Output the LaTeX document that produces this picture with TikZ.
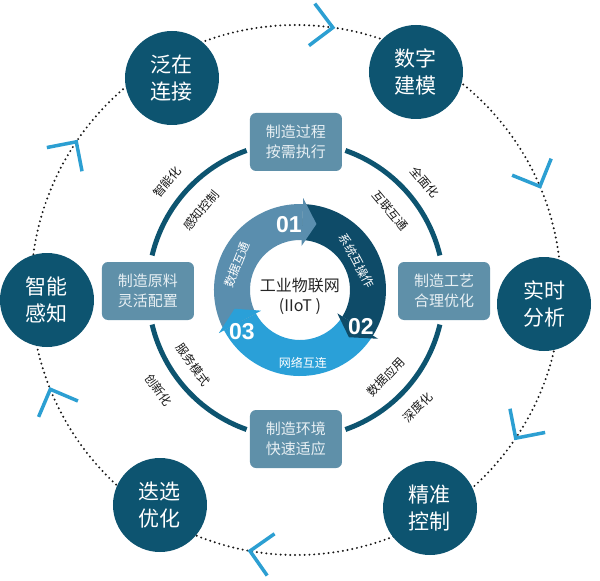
\documentclass[tikz,border=0pt]{standalone}
\usepackage{fontspec}
\newfontfamily\cjk{Noto Sans CJK SC}
\newfontfamily\numfont{Liberation Sans}
\definecolor{HubTeal}{HTML}{0D5470}
\definecolor{BoxBlue}{HTML}{5F90A9}
\definecolor{BoxText}{HTML}{E8F0F4}
\definecolor{SegOne}{HTML}{5A8EAE}
\definecolor{SegTwo}{HTML}{0E4B68}
\definecolor{SegThree}{HTML}{2AA0D8}
\definecolor{ChevBlue}{HTML}{2C9FD2}
\newcommand{\ringseg}[3]{\fill[#1] (#2:86) arc[start angle=#2, end angle=#3, radius=86]
  -- (#3:50) arc[start angle=#3, end angle=#2, radius=50] -- cycle;}
\newcommand{\ringhead}[3]{\fill[#1] (#2:44) -- (#2:92) -- (#3:68) -- cycle;}

\begin{document}
\begin{tikzpicture}[x=1pt, y=1pt,
  hub/.style={circle, fill=HubTeal, text=white, minimum size=94pt, inner sep=0pt,
              align=center, font=\cjk\fontsize{21}{27}\selectfont},
  box/.style={rounded corners=6pt, fill=BoxBlue, text=BoxText, minimum width=92pt,
              minimum height=58pt, inner sep=0pt, align=center,
              font=\cjk\fontsize{15}{20}\selectfont},
  tag/.style={font=\cjk\fontsize{12}{12}\selectfont, text=black!90, inner sep=0pt},
  seglbl/.style={font=\cjk\fontsize{12}{12}\selectfont, text=white, inner sep=0pt},
  num/.style={font=\numfont\bfseries\fontsize{23}{23}\selectfont, text=white, inner sep=0pt},
  chev/.style={ChevBlue, line width=3.5pt},
  ring/.style={HubTeal, line width=5pt}]
  \useasboundingbox (-296,-291) rectangle (304,290);
  % outer loop
  \draw[black!90, line width=2.2pt, dash pattern=on 0pt off 4.8pt, line cap=round]
    (0,0) circle[radius=265];
  \foreach \a in {82,23,-34,-100,-158,146}
    \draw[chev] (\a:265) ++(\a+45:30) -- (\a:265) -- ++(\a+135:30);
  \node[hub] (conn)  at (-124,212) {泛在\\连接};
  \node[hub] (model) at (120,218)  {数字\\建模};
  \node[hub] (analy) at (248,-14)  {实时\\分析};
  \node[hub] (ctrl)  at (134,-218) {精准\\控制};
  \node[hub] (optim) at (-136,-215) {迭选\\优化};
  \node[hub] (sense) at (-249,-10) {智能\\感知};
  % middle ring
  \foreach \s/\e in {13.5/70.5, 109.5/166.5, 193.5/250.5, 289.5/346.5}
    \draw[ring] (\s:148) arc[start angle=\s, end angle=\e, radius=148];
  \node[box] (exec)     at (0,148)   {制造过程\\按需执行};
  \node[box] (craft)    at (148,-1)  {制造工艺\\合理优化};
  \node[box] (env)      at (0,-149)  {制造环境\\快速适应};
  \node[box] (material) at (-148,-1) {制造原料\\灵活配置};
  \node[tag, rotate=50]  (smart)   at (140:168) {智能化};
  \node[tag, rotate=50]  (sensctl) at (140:124) {感知控制};
  \node[tag, rotate=-50] (whole)   at (40:168)  {全面化};
  \node[tag, rotate=-50] (interc)  at (40:123)  {互联互通};
  \node[tag, rotate=46]  (dataapp) at (-44:125) {数据应用};
  \node[tag, rotate=46]  (deep)    at (-44:169) {深度化};
  \node[tag, rotate=-54] (service) at (216:127) {服务模式};
  \node[tag, rotate=-54] (innov)   at (216:170) {创新化};
  % core cycle
  \begin{scope}[shift={(4,0)}]
    \ringseg{SegThree}{-32}{-152}
    \ringseg{SegTwo}{88}{-32}
    \ringseg{SegOne}{208}{88}
    \ringhead{SegOne}{88}{76}
    \ringhead{SegTwo}{-32}{-44}
    \ringhead{SegThree}{-152}{-164}
    \node[num] (one)   at (-11,65)  {01};
    \node[num] (two)   at (61,-37)  {02};
    \node[num] (three) at (-58,-42) {03};
    \node[seglbl, rotate=68]  (dataex)  at (-63,25)  {数据互通};
    \node[seglbl, rotate=-62] (sysop)   at (27:64)   {系统互操作};
    \node[seglbl]             (netlink) at (3,-73)   {网络互连};
    \node[font=\cjk\fontsize{16}{20}\selectfont, align=center, text=black!85]
      (iiot) at (0,-6) {工业物联网\\(IIoT )};
  \end{scope}
\end{tikzpicture}
\end{document}
